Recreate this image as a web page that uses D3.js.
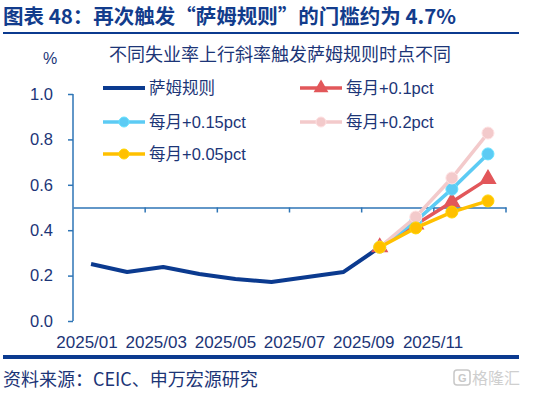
<!DOCTYPE html>
<html>
<head>
<meta charset="utf-8">
<script src="https://cdn.jsdelivr.net/npm/d3@7"></script>
<style>
  body { margin: 0; background: #fff; }
  svg { display: block; font-family: "Liberation Sans", "Noto Sans CJK SC", sans-serif; }
</style>
</head>
<body>
<svg width="546" height="394"></svg>
<script>
// months and series
var months = ["2025/01","2025/02","2025/03","2025/04","2025/05","2025/06",
              "2025/07","2025/08","2025/09","2025/10","2025/11","2025/12"];
var tickLabels = ["2025/01","2025/03","2025/05","2025/07","2025/09","2025/11"];
var yTicks = [0, 0.2, 0.4, 0.6, 0.8, 1.0];

var sahm = [0.251, 0.216, 0.238, 0.207, 0.185, 0.172, 0.194, 0.216, 0.325];
var simMonths = ["2025/09","2025/10","2025/11","2025/12"];
var up010 = [0.325, 0.425, 0.524, 0.626];
var up015 = [0.325, 0.44, 0.581, 0.736];
var up020 = [0.325, 0.458, 0.63, 0.828];
var up005 = [0.325, 0.41, 0.48, 0.529];
var threshold = 0.5;

var navy = "#0b3a8f", axisBlue = "#2e75b6", textBlue = "#1c3577";

var svg = d3.select("svg");

// title
svg.append("text").attr("x", 3).attr("y", 24)
    .attr("font-size", 20.5).attr("font-weight", "bold").attr("fill", "#123c8c")
    .attr("font-family", "'Noto Sans CJK SC', sans-serif")
    .text("图表 48：再次触发“萨姆规则”的门槛约为 4.7%");
svg.append("rect").attr("x", 3).attr("y", 32).attr("width", 516).attr("height", 2).attr("fill", navy);

svg.append("text").attr("x", 280).attr("y", 61).attr("text-anchor", "middle")
    .attr("font-size", 18).attr("fill", textBlue)
    .attr("font-family", "'Noto Sans CJK SC', sans-serif")
    .text("不同失业率上行斜率触发萨姆规则时点不同");
svg.append("text").attr("x", 50).attr("y", 64).attr("text-anchor", "middle")
    .attr("font-size", 16).attr("fill", textBlue).text("%");

// scales
var x = d3.scaleBand().domain(months).range([73, 506]);
var xc = function(m) { return x(m) + x.bandwidth() / 2; };
var y = d3.scaleLinear().domain([0, 1]).range([321, 94]);
var xl = d3.scalePoint().domain(tickLabels).range([87, 433]);

// y axis
var yAxis = svg.append("g").attr("transform", "translate(73,0)")
    .call(d3.axisLeft(y).tickValues(yTicks).tickFormat(d3.format(".1f")).tickSize(5).tickPadding(15));
yAxis.select(".domain").attr("stroke", axisBlue).attr("stroke-width", 1.5).attr("d", "M0,94V321");
yAxis.selectAll(".tick line").attr("stroke", axisBlue).attr("stroke-width", 1.5);
yAxis.selectAll(".tick text").attr("fill", textBlue).attr("font-size", 16.5)
    .attr("font-family", "'Liberation Sans', sans-serif");

// category axis drawn at the threshold line
var xAxis = svg.append("g").attr("transform", "translate(0," + y(threshold) + ")")
    .call(d3.axisBottom(x).tickValues([]).tickSizeOuter(0));
xAxis.select(".domain").attr("stroke", axisBlue).attr("stroke-width", 1.5);
var tickPos = d3.range(2, 13, 2).map(function(i) { return x.range()[0] + i * x.step(); });
xAxis.selectAll(".tk").data(tickPos).enter().append("line")
    .attr("x1", function(d) { return d; }).attr("x2", function(d) { return d; })
    .attr("y1", 0).attr("y2", 5).attr("stroke", axisBlue).attr("stroke-width", 1.5);

// x labels
svg.append("g").selectAll("text").data(tickLabels).enter().append("text")
    .attr("x", function(d) { return xl(d); }).attr("y", 348)
    .attr("text-anchor", "middle").attr("font-size", 17).attr("fill", textBlue)
    .text(function(d) { return d; });

var line = d3.line().x(function(d) { return d[0]; }).y(function(d) { return d[1]; });

// sahm line
svg.append("path")
    .attr("d", line(sahm.map(function(v, i) { return [xc(months[i]), y(v)]; })))
    .attr("fill", "none").attr("stroke", navy).attr("stroke-width", 4).attr("stroke-linejoin", "round");

var sims = [
    { name: "每月+0.1pct", vals: up010, color: "#e2575a", mark: "tri" },
    { name: "每月+0.15pct", vals: up015, color: "#5ccbf4", mark: "circ" },
    { name: "每月+0.2pct", vals: up020, color: "#f3cacb", mark: "circ" },
    { name: "每月+0.05pct", vals: up005, color: "#ffc000", mark: "circ" }
];

function marker(g, cx, cy, s, r) {
    if (s.mark === "tri") {
        g.append("path").attr("d", d3.symbol().type(d3.symbolTriangle).size(r * r * 2.6)())
            .attr("transform", "translate(" + cx + "," + cy + ")")
            .attr("fill", s.color).attr("stroke", s.color).attr("stroke-width", 1.5);
    } else {
        g.append("circle").attr("cx", cx).attr("cy", cy).attr("r", r)
            .attr("fill", s.color).attr("stroke", d3.color(s.color).brighter(0.3)).attr("stroke-width", 1);
    }
}

sims.forEach(function(s) {
    var g = svg.append("g");
    var pts = s.vals.map(function(v, i) { return [xc(simMonths[i]), y(v)]; });
    g.append("path").attr("d", line(pts)).attr("fill", "none")
        .attr("stroke", s.color).attr("stroke-width", 3.5);
    pts.forEach(function(p) { marker(g, p[0], p[1], s, 6); });
});

// legend
var legend = [
    { name: "萨姆规则", color: navy, mark: "none", lx: 103, ly: 88 },
    { name: "每月+0.1pct", color: sims[0].color, mark: "tri", lx: 300, ly: 88 },
    { name: "每月+0.15pct", color: sims[1].color, mark: "circ", lx: 103, ly: 122 },
    { name: "每月+0.2pct", color: sims[2].color, mark: "circ", lx: 300, ly: 122 },
    { name: "每月+0.05pct", color: sims[3].color, mark: "circ", lx: 103, ly: 154 }
];
legend.forEach(function(l) {
    var g = svg.append("g");
    g.append("line").attr("x1", l.lx).attr("x2", l.lx + 42).attr("y1", l.ly).attr("y2", l.ly)
        .attr("stroke", l.color).attr("stroke-width", l.mark === "none" ? 4 : 3.5);
    if (l.mark !== "none") marker(g, l.lx + 21, l.ly, l, 5);
    g.append("text").attr("x", l.lx + 46).attr("y", l.ly + 6)
        .attr("font-size", 16.5).attr("fill", textBlue).text(l.name);
});

// footer
svg.append("rect").attr("x", 3).attr("y", 355).attr("width", 516).attr("height", 4).attr("fill", navy);
svg.append("text").attr("x", 3).attr("y", 386).attr("font-size", 18).attr("fill", textBlue)
    .attr("font-family", "'Noto Sans CJK SC', sans-serif")
    .text("资料来源：CEIC、申万宏源研究");
svg.append("rect").attr("x", 454).attr("y", 370).attr("width", 16).attr("height", 15).attr("rx", 3)
    .attr("fill", "none").attr("stroke", "#c8c8c8").attr("stroke-width", 1.5);
svg.append("text").attr("x", 458).attr("y", 382).attr("font-size", 11).attr("font-weight", "bold")
    .attr("fill", "#c8c8c8").text("G");
svg.append("text").attr("x", 472).attr("y", 384).attr("font-size", 16).attr("fill", "#cfcfcf")
    .attr("font-family", "'Noto Sans CJK SC', sans-serif").text("格隆汇");
</script>
</body>
</html>
